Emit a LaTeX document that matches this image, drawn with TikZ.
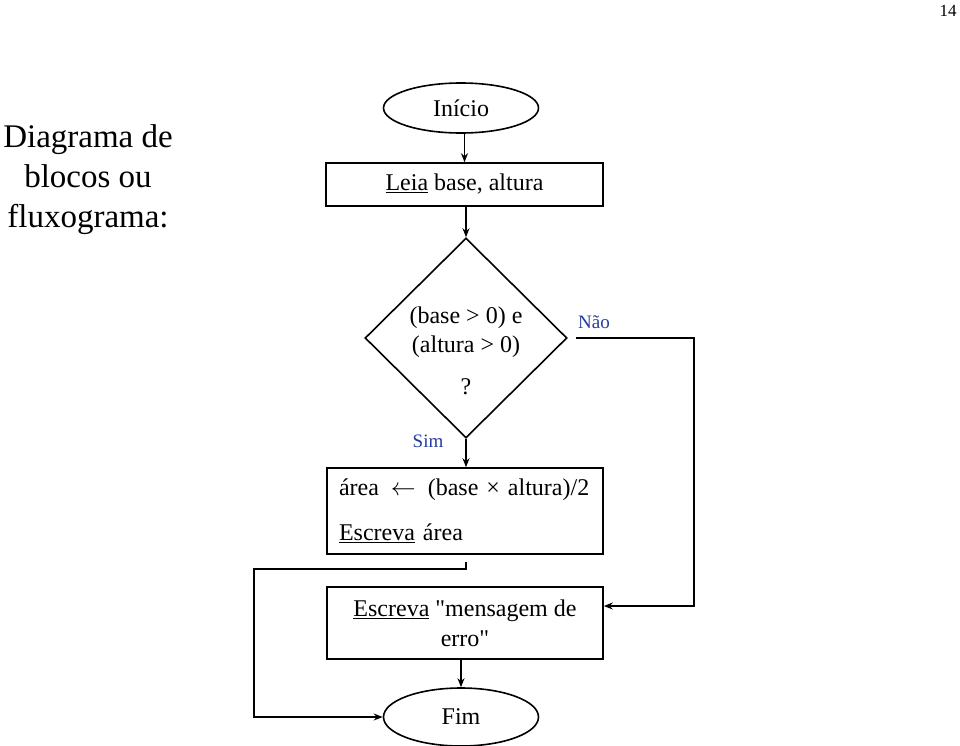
\documentclass[tikz,border=0pt]{standalone}
\usepackage{fontspec}
\setmainfont{Liberation Serif}[Ligatures=TeXOff]
\usetikzlibrary{shapes.geometric,arrows.meta}
\definecolor{lblblue}{RGB}{35,60,160}
\tikzset{
  flow/.style={line width=1.6pt},
  arr/.style={flow,-{Stealth[length=9pt,width=7pt]}},
  term/.style={draw,flow,ellipse,minimum width=155pt,inner sep=0pt,font=\fontsize{24}{28}\selectfont},
  procbox/.style={draw,flow,rectangle,inner sep=0pt},
  lbl/.style={text=lblblue,font=\fontsize{19}{22}\selectfont,inner sep=0pt},
}
\begin{document}
\begin{tikzpicture}[x=1pt,y=-1pt]
\useasboundingbox (0,0) rectangle (960,745);

\node[inner sep=0pt,font=\fontsize{17}{20}\selectfont] (page) at (948,11) {14};
\node[inner sep=0pt,align=center,font=\fontsize{33}{40}\selectfont] (title) at (88,180)
  {Diagrama de\\blocos ou\\fluxograma:};

\node[term,minimum height=50pt] (inicio) at (461,108) {Início};
\node[procbox,minimum width=277pt,minimum height=43pt,font=\fontsize{24}{28}\selectfont] (leia) at (464.5,184.5)
  {\underline{Leia} base, altura};
\node[draw,flow,diamond,minimum width=202pt,minimum height=200pt,inner sep=0pt] (dia) at (466,338) {};
\node[inner sep=0pt,align=center,font=\fontsize{24}{29}\selectfont] (cond) at (466,351)
  {(base > 0) e\\(altura > 0)\\[13pt]?};
\node[procbox,minimum width=276pt,minimum height=86pt,text width=252pt,align=left,font=\fontsize{24}{28}\selectfont] (area) at (465,511)
  {área \,$\leftarrow$\, (base × altura)/2\\[17pt]\underline{Escreva} área};
\node[procbox,minimum width=276pt,minimum height=72pt,align=center,font=\fontsize{24}{30}\selectfont] (msg) at (465,623)
  {\underline{Escreva} "mensagem de\\erro"};
\node[term,minimum height=58pt] (fim) at (461,717) {Fim};

\node[lbl] (nao) at (594,322) {Não};
\node[lbl] (sim) at (428,441) {Sim};

\coordinate (noStart) at (576,338);
\coordinate (noCorner) at (694,606);
\coordinate (simStart) at (466,562);
\coordinate (simLeft) at (254,569);

\draw[arr] (leia.north |- inicio.south) -- (leia.north);
\draw[arr] (dia.north |- leia.south) -- (dia.north);
\draw[arr] (dia.south) -- (dia.south |- area.north);
\draw[arr] (noStart) -| (noCorner) -- (noCorner -| msg.east);
\draw[arr] (simStart) -- (simStart |- simLeft) -- (simLeft) |- (fim.west);
\draw[arr] (msg.south -| fim.north) -- (fim.north);
\end{tikzpicture}
\end{document}
